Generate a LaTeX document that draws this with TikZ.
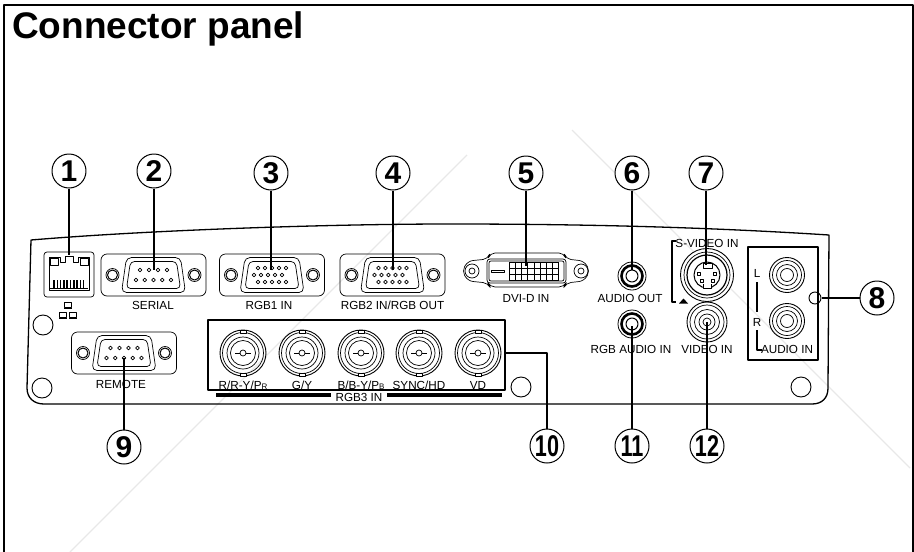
\documentclass[tikz,border=0pt]{standalone}
\usepackage{fontspec}
\setmainfont{Liberation Sans}
\usetikzlibrary{positioning}

\tikzset{
    part/.style={draw=black, line width=0.7pt},
    leader/.style={draw=black, line width=1.1pt},
    callout/.style={circle, draw=black, line width=1pt, fill=white, minimum size=34pt, inner sep=0pt, font=\fontsize{30}{30}\selectfont\bfseries},
    tag/.style={inner sep=0pt, font=\fontsize{11.7}{12}\selectfont},
    hole/.style={draw=black, line width=0.9pt, fill=white},
    box/.style={draw=black, line width=1.4pt},
    bar/.style={draw=black, line width=3.4pt},
    mark line/.style={draw=black!9, line width=1.2pt}
}

% plate, screws, shell and pins of a sub-D socket
\newcommand{\dsubplate}[2]{
    \draw[part, rounded corners=6pt] (#1-52.5,#2-21) rectangle (#1+52.5,#2+21);
    \draw[part, fill=white] (#1-41,#2) circle (6.5);
    \draw[part, line width=1pt] (#1-41,#2) circle (5);
    \draw[part, fill=white] (#1+41,#2) circle (6.5);
    \draw[part, line width=1pt] (#1+41,#2) circle (5);
    \draw[part, rounded corners=5pt] (#1-27,#2-17.5) -- (#1+27,#2-17.5) -- (#1+32,#2+17.5) -- (#1-32,#2+17.5) -- cycle;
    \draw[part, rounded corners=4pt] (#1-23,#2-13.5) -- (#1+23,#2-13.5) -- (#1+27,#2+13.5) -- (#1-27,#2+13.5) -- cycle;
}
\newcommand{\pinrow}[4]{
    \foreach \i in {1,...,#3} {
        \draw[part, line width=0.6pt, fill=white] ({#1+(\i-(#3+1)/2)*#4},#2) circle (1.9);
    }
}
\newcommand{\bncjack}[3]{
    \draw[part, line width=0.9pt] (#1,#2) circle (23);
    \draw[part] (#1,#2) circle (20.5);
    \draw[part] (#1,#2) circle (16);
    \draw[part] (#1,#2) circle (12.5);
    \draw[part, fill=white] (#1-3,#2-23) rectangle (#1+3,#2-20);
    \draw[part, fill=white] (#1-3,#2+20) rectangle (#1+3,#2+23);
    \draw[line width=1pt] (#1-8,#2) -- (#1+8,#2);
    \draw[part, fill=white] (#1,#2) circle (3);
    \coordinate (#3) at (#1,385);
}
\newcommand{\minijack}[2]{
    \draw[part, line width=0.8pt] (#1,#2) circle (14);
    \draw[line width=2.6pt] (#1,#2) circle (10.5);
    \draw[line width=1pt, fill=white] (#1,#2) circle (6);
}
\newcommand{\rcajack}[2]{
    \draw[part, line width=0.9pt] (#1,#2) circle (17.5);
    \draw[part] (#1,#2) circle (14.5);
    \draw[part] (#1,#2) circle (10.5);
    \draw[part] (#1,#2) circle (6.5);
}
\newcommand{\lanicon}[2]{
    \draw[part, line width=0.5pt] (#1-3.5,#2-3) rectangle (#1+3.5,#2+2);
    \draw[part, line width=0.6pt] (#1-4,#2+3.5) -- (#1+4,#2+3.5);
}

\begin{document}
\begin{tikzpicture}[line cap=butt, line join=round, x=1pt, y=-1pt]
    \useasboundingbox (0,0) rectangle (914,552);

    % faint marks behind everything
    \draw[mark line] (70,552) -- (467,155);
    \draw[mark line] (572,130) -- (910,468);

    % frame and title
    \draw[line width=2pt] (4,552) -- (4,5) -- (913,5) -- (913,552);
    \node[anchor=base west, inner sep=0pt, font=\fontsize{37}{37}\selectfont\bfseries] (title) at (12,38) {Connector panel};

    % panel outline
    \draw[line width=1.3pt] (31,240) .. controls (150,230) and (330,224) .. (450,224)
        .. controls (600,224) and (720,228) .. (829,235) -- (828,388)
        .. controls (828,398) and (822,404) .. (812,404) -- (44,404)
        .. controls (34,404) and (27,398) .. (27,388) -- cycle;
    \draw[hole] (43,325) circle (10);
    \draw[hole] (42,388) circle (10);
    \draw[hole] (521,387) circle (10);
    \draw[hole] (801,387) circle (10);
    \draw[hole] (815,298) circle (6);

    % lan socket
    \draw[part, rounded corners=3pt] (44,252) rectangle (94,297);
    \draw[part] (49,257) -- (60,257) -- (60,262) -- (65,262) -- (65,256) -- (73,256) -- (73,262) -- (78,262) -- (78,257) -- (89,257) -- (89,290) -- (49,290) -- cycle;
    \draw[part] (50,258) rectangle (58,265);
    \draw[part] (80,258) rectangle (88,265);
    \foreach \i in {0,...,9} {
        \draw[line width=1.5pt] (54+\i*3.3,280) -- (54+\i*3.3,288);
    }
    \draw[line width=1.2pt] (50,288.5) -- (88,288.5);
    \lanicon{68}{305}
    \lanicon{63}{315}
    \lanicon{73}{315}

    % sub-D sockets
    \dsubplate{153.5}{275}
    \pinrow{153.5}{270}{4}{9}
    \pinrow{153.5}{280}{5}{8.75}
    \dsubplate{272}{275}
    \pinrow{272}{268}{5}{7}
    \pinrow{268}{275}{5}{7}
    \pinrow{272}{282}{5}{7}
    \dsubplate{392.5}{275}
    \pinrow{392.5}{268}{5}{7}
    \pinrow{388.5}{275}{5}{7}
    \pinrow{392.5}{282}{5}{7}
    \dsubplate{124}{353}
    \pinrow{124}{348}{4}{9}
    \pinrow{124}{358}{5}{8.75}

    % dvi socket
    \draw[part, rounded corners=5pt] (462,271) -- (468,261) -- (488,259) -- (490,253) -- (564,253) -- (566,259) -- (584,261) -- (590,271) -- (584,281) -- (566,283) -- (564,287) -- (490,287) -- (488,283) -- (468,281) -- cycle;
    \draw[part] (472,271) circle (7);
    \draw[part] (472,271) circle (3);
    \draw[part] (581,271) circle (7);
    \draw[part] (581,271) circle (3);
    \draw[part, rounded corners=3pt] (487,259) rectangle (566,283);
    \draw[part, rounded corners=2pt] (489,261) rectangle (564,281);
    \draw[part, line width=1pt] (491,270) rectangle (504,272);
    \foreach \i in {0,...,8} {
        \draw[part, line width=0.6pt] (509+\i*6.2,262) -- (509+\i*6.2,280);
    }
    \foreach \j in {0,...,3} {
        \draw[part, line width=0.6pt] (509,262+\j*6) -- (558.6,262+\j*6);
    }

    % round jacks
    \minijack{632}{276}
    \minijack{632}{324}
    \rcajack{787}{275}
    \rcajack{787}{321}

    % s-video and video
    \draw[part, line width=0.9pt] (707,322) circle (20);
    \draw[part] (707,322) circle (17);
    \draw[part] (707,322) circle (12.5);
    \draw[part] (707,322) circle (8);
    \draw[part] (707,322) circle (4);
    \draw[part, line width=0.9pt, fill=white] (707,275) circle (26.5);
    \draw[part] (707,275) circle (23);
    \draw[part, line width=1.2pt] (707,275) circle (20);
    \draw[part, line width=1pt, fill=white] (707,275) circle (13);
    \draw[part, line width=0.8pt, fill=white] (703,263) rectangle (712,268);
    \draw[part, line width=0.8pt, fill=white] (703,284) -- (703,288) -- (711,288) -- (711,284);
    \foreach \px/\py in {699/274, 715/274, 702/281, 713/281} {
        \draw[part, line width=0.5pt] (\px-1.5,\py-1.5) rectangle (\px+1.5,\py+1.5);
    }
    \draw[line width=1.2pt] (676,241) -- (672,241) -- (672,302) -- (676,302);
    \fill (679,303.5) -- (683.5,298.5) -- (688,303.5) -- cycle;

    % audio block
    \draw[box] (748,247) rectangle (818,360);
    \draw[line width=1.4pt] (757,282) -- (757,312);
    \draw[line width=1.4pt] (757,330) -- (757,350) -- (762,350);

    % bnc block
    \draw[box] (208,320) rectangle (505,390);
    \bncjack{243}{353}{bncr}
    \bncjack{302}{353}{bncg}
    \bncjack{361}{353}{bncb}
    \bncjack{419}{353}{bncs}
    \bncjack{478}{353}{bncv}
    \draw[bar] (216,395) -- (331,395);
    \draw[bar] (387,395) -- (502,395);

    % labels
    \node[tag] (serial) at (153,305) {SERIAL};
    \node[tag] (rgbone) at (269,305) {RGB1 IN};
    \node[tag] (rgbtwo) at (392.5,305) {RGB2 IN/RGB OUT};
    \node[tag] (remote) at (121,384) {REMOTE};
    \node[tag] (dvi) at (526,298) {DVI-D IN};
    \node[tag] (audioout) at (630,298) {AUDIO OUT};
    \node[tag] (rgbaudio) at (631,349) {RGB AUDIO IN};
    \node[tag] (videoin) at (707,349) {VIDEO IN};
    \node[tag] (svideo) at (707,243) {S-VIDEO IN};
    \node[tag] (audioin) at (787,349) {AUDIO IN};
    \node[tag] (lefttag) at (757,273) {L};
    \node[tag] (righttag) at (757,322) {R};
    \node[tag] (lblr) at (bncr) {R/R-Y/P{\fontsize{8}{8}\selectfont R}};
    \node[tag] (lblg) at (bncg) {G/Y};
    \node[tag] (lblb) at (bncb) {B/B-Y/P{\fontsize{8}{8}\selectfont B}};
    \node[tag] (lbls) at (bncs) {SYNC/HD};
    \node[tag] (lblv) at (bncv) {VD};
    \node[tag] (rgbthree) at (359,397) {RGB3 IN};

    % callouts
    \node[callout] (one) at (69,171) {1};
    \node[callout] (two) at (154,171) {2};
    \node[callout] (three) at (271,173) {3};
    \node[callout] (four) at (393,173) {4};
    \node[callout] (five) at (526,173) {5};
    \node[callout] (six) at (632,173) {6};
    \node[callout] (seven) at (706,173) {7};
    \node[callout] (eight) at (877,298) {8};
    \node[callout] (nine) at (124,447) {9};
    \node[callout] (ten) at (547,446) {\scalebox{0.72}[1]{10}};
    \node[callout] (eleven) at (632,446) {\scalebox{0.72}[1]{11}};
    \node[callout] (twelve) at (707,446) {\scalebox{0.72}[1]{12}};

    % leaders
    \coordinate (endone) at (69,255);
    \coordinate (endtwo) at (154,270);
    \coordinate (endthree) at (271,270);
    \coordinate (endfour) at (393,270);
    \coordinate (endfive) at (526,266);
    \coordinate (endsix) at (632,270);
    \coordinate (endseven) at (706,265);
    \coordinate (endeight) at (822,298);
    \coordinate (endnine) at (124,358);
    \coordinate (endten) at (505,353);
    \coordinate (endeleven) at (632,326);
    \coordinate (endtwelve) at (707,322);

    \draw[leader] (one) -- (endone);
    \draw[leader] (two) -- (endtwo);
    \draw[leader] (three) -- (endthree);
    \draw[leader] (four) -- (endfour);
    \draw[leader] (five) -- (endfive);
    \draw[leader] (six) -- (endsix);
    \draw[leader] (seven) -- (endseven);
    \draw[leader] (eight) -- (endeight);
    \draw[leader] (nine) -- (endnine);
    \draw[leader] (ten) |- (endten);
    \draw[leader] (eleven) -- (endeleven);
    \draw[leader] (twelve) -- (endtwelve);
\end{tikzpicture}
\end{document}
